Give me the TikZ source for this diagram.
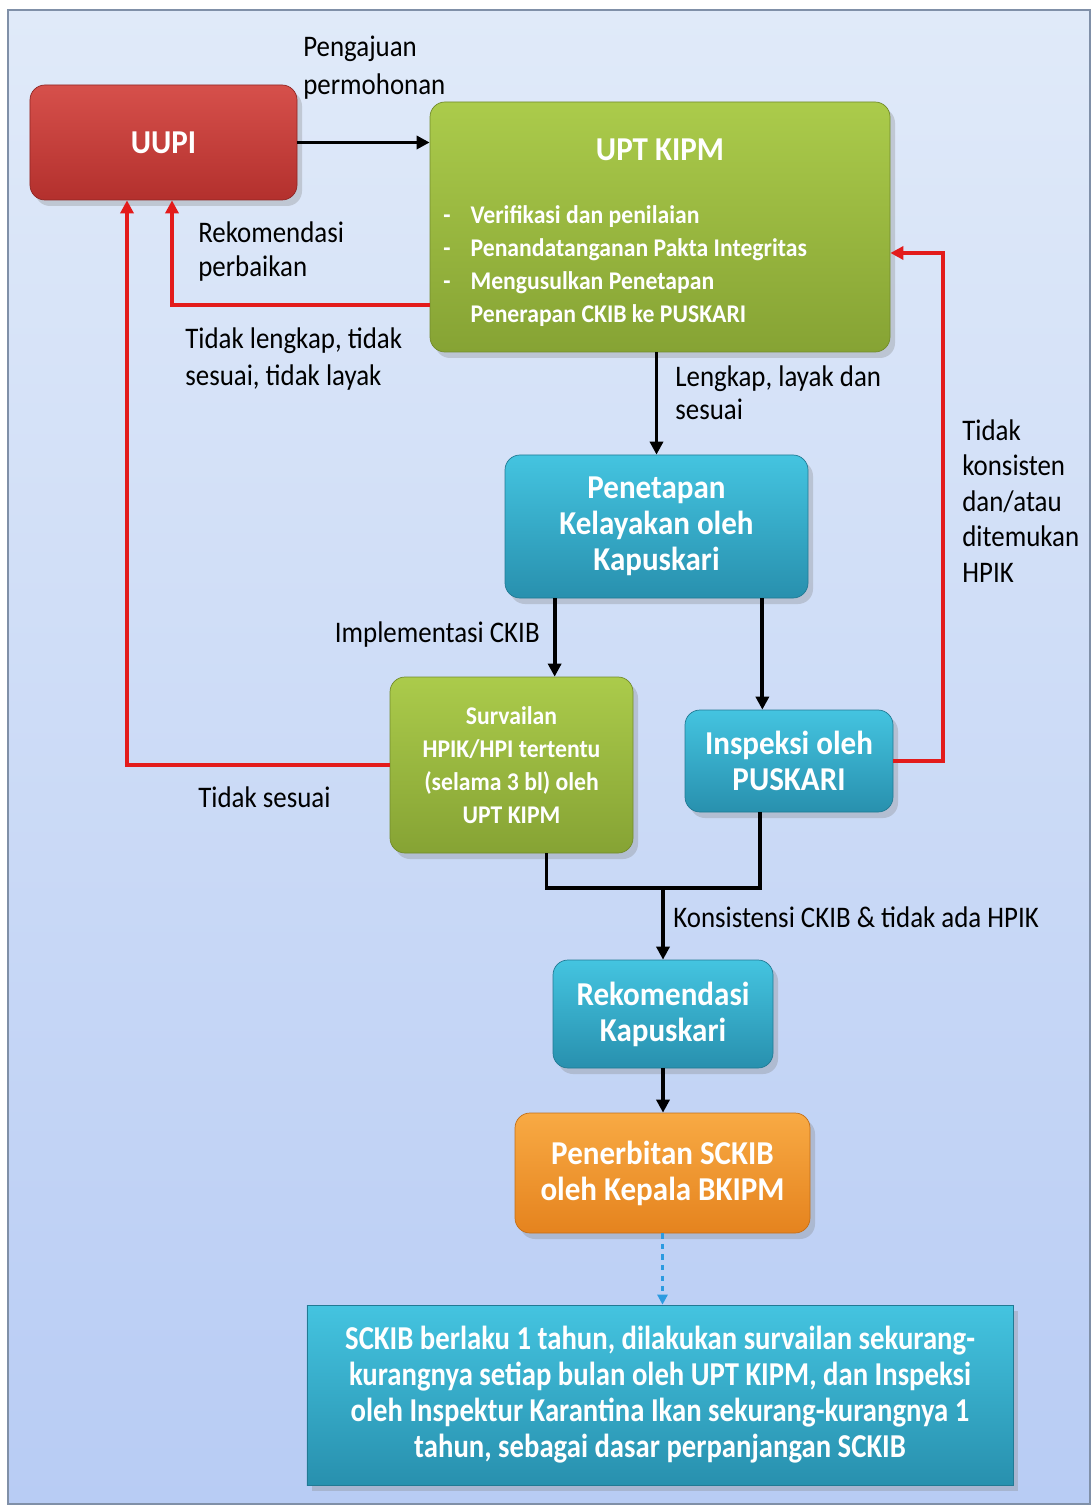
\documentclass[tikz,border=0pt]{standalone}
\usepackage{fontspec}
\setmainfont{Carlito}
\newfontfamily\boxfont[FakeStretch=0.93]{Carlito}
\newfontfamily\lblfont[FakeStretch=0.9]{Carlito}
\newfontfamily\notefont[FakeStretch=0.86]{Carlito}
\usetikzlibrary{arrows.meta,positioning,calc,shadows}
\definecolor{bgtop}{HTML}{E0EAF9}
\definecolor{bgbot}{HTML}{B8CCF4}
\definecolor{frame}{HTML}{8090A8}
\definecolor{redtop}{HTML}{D6504B}
\definecolor{redbot}{HTML}{B3302D}
\definecolor{grntop}{HTML}{ABCB4B}
\definecolor{grnbot}{HTML}{86A334}
\definecolor{blutop}{HTML}{44C4E0}
\definecolor{blubot}{HTML}{2890AE}
\definecolor{orgtop}{HTML}{F8AA44}
\definecolor{orgbot}{HTML}{E5831E}
\definecolor{lnred}{HTML}{E31B1B}
\definecolor{lnblue}{HTML}{2C9BE0}
\tikzset{
  box/.style={rounded corners=3mm, align=center, inner sep=2pt, text=white,
    font=\boxfont\bfseries\fontsize{19}{20.5}\selectfont,
    drop shadow={opacity=0.3, shadow xshift=1mm, shadow yshift=-1.2mm}},
  redbox/.style={top color=redtop, bottom color=redbot, draw=redbot!80!black, line width=0.4pt},
  greenbox/.style={top color=grntop, bottom color=grnbot, draw=grnbot!85!black, line width=0.4pt},
  bluebox/.style={top color=blutop, bottom color=blubot, draw=blubot!85!black, line width=0.4pt},
  orangebox/.style={top color=orgtop, bottom color=orgbot, draw=orgbot!85!black, line width=0.4pt},
  smalltext/.style={font=\boxfont\bfseries\fontsize{14.5}{18.8}\selectfont},
  lbl/.style={inner sep=0pt, align=left, font=\lblfont\fontsize{17}{19}\selectfont},
  blkline/.style={line width=2.2pt},
  blkarrow/.style={-{Triangle[length=2.6mm, width=2.6mm]}, line width=2.2pt},
  redarrow/.style={-{Triangle[length=2.6mm, width=2.6mm]}, line width=2.2pt, draw=lnred, color=lnred},
  dasharrow/.style={-{Triangle[length=2mm, width=2mm]}, line width=1.4pt, dashed, draw=lnblue, color=lnblue}
}
\begin{document}
\begin{tikzpicture}[x=0.2mm, y=-0.2mm]
  \useasboundingbox (0,0) rectangle (1091,1505);
  \path[top color=bgtop, bottom color=bgbot, draw=frame, line width=1pt] (8,10) rectangle (1090,1504);

  \node[box, redbox, minimum width=53.4mm, minimum height=23mm] (uupi) at (163.5,142.5) {UUPI};
  \node[box, greenbox, minimum width=92mm, minimum height=50mm] (kipm) at (660,227) {};
  \node[text=white, font=\boxfont\bfseries\fontsize{19}{20.5}\selectfont] (kipmtitle) at (660,150) {UPT KIPM};
  \node[anchor=north west, inner sep=0pt, text=white, smalltext] (kipmlist) at (443,200) {%
    \begin{tabular}{@{}l@{\hspace{4mm}}l@{}}
      - & Verifikasi dan penilaian\\
      - & Penandatanganan Pakta Integritas\\
      - & Mengusulkan Penetapan\\
        & Penerapan CKIB ke PUSKARI
    \end{tabular}};
  \node[box, bluebox, minimum width=60.6mm, minimum height=28.6mm] (penetapan) at (656.5,526.5) {Penetapan\\Kelayakan oleh\\Kapuskari};
  \node[box, greenbox, smalltext, minimum width=48.6mm, minimum height=35.2mm] (surv) at (511.5,765) {Survailan\\HPIK/HPI tertentu\\(selama 3 bl) oleh\\UPT KIPM};
  \node[box, bluebox, minimum width=41.6mm, minimum height=20.4mm] (insp) at (789,761) {Inspeksi oleh\\PUSKARI};
  \node[box, bluebox, minimum width=44mm, minimum height=21.6mm] (rekom) at (663,1014) {Rekomendasi\\Kapuskari};
  \node[box, orangebox, minimum width=59mm, minimum height=24mm] (terbit) at (662.5,1173) {Penerbitan SCKIB\\oleh Kepala BKIPM};
  \node[box, bluebox, rounded corners=0pt, minimum width=141.2mm, minimum height=36mm,
    font=\notefont\bfseries\fontsize{19}{20.5}\selectfont] (note) at (660,1395)
    {SCKIB berlaku 1 tahun, dilakukan survailan sekurang-\\kurangnya setiap bulan oleh UPT KIPM, dan Inspeksi\\oleh Inspektur Karantina Ikan sekurang-kurangnya 1\\tahun, sebagai dasar perpanjangan SCKIB};

  \node[lbl, anchor=west] (lblsubmit) at (303,67.5) {Pengajuan\\[3pt]permohonan};
  \node[lbl, anchor=west] (lblfix) at (198,251.5) {Rekomendasi\\perbaikan};
  \node[lbl, anchor=west] (lblincomplete) at (185,359) {Tidak lengkap, tidak\\[2pt]sesuai, tidak layak};
  \node[lbl, anchor=west] (lblcomplete) at (675,393) {Lengkap, layak dan\\sesuai};
  \node[lbl, anchor=west, font=\lblfont\fontsize{17}{20.2}\selectfont] (lblinconsist) at (962,501) {Tidak\\konsisten\\dan/atau\\ditemukan\\HPIK};
  \node[lbl, anchor=east] (lblimpl) at (540,635) {Implementasi CKIB};
  \node[lbl, anchor=west] (lblnotok) at (198,797) {Tidak sesuai};
  \node[lbl, anchor=west] (lblconsist) at (673,917) {Konsistensi CKIB \& tidak ada HPIK};

  \coordinate (kipmout) at ([yshift=-15.6mm]kipm.west);
  \coordinate (kipmin) at ([yshift=-5.2mm]kipm.east);
  \coordinate (uupiin) at ([xshift=1.7mm]uupi.south);
  \coordinate (uupiin2) at ([xshift=-7.3mm]uupi.south);
  \coordinate (implsrc) at ([xshift=10mm]penetapan.south west);
  \coordinate (inspsrc) at ([xshift=-9.2mm]penetapan.south east);
  \coordinate (survout) at ([xshift=7mm]surv.south);
  \coordinate (inspout) at ([xshift=-5.8mm]insp.south);
  \coordinate (merge) at (663,888);

  \draw[blkarrow] (uupi) -- (uupi -| kipm.west);
  \draw[redarrow] (kipmout) -| (uupiin);
  \draw[redarrow] (surv.west) -| (uupiin2);
  \draw[redarrow] (insp.east) -- ++(10mm,0) |- (kipmin);
  \draw[blkarrow] (penetapan.north |- kipm.south) -- (penetapan.north);
  \draw[blkarrow] (implsrc) -- (implsrc |- surv.north);
  \draw[blkarrow] (inspsrc) -- (inspsrc |- insp.north);
  \draw[blkline] (survout) |- (merge) -| (inspout);
  \draw[blkarrow] (merge) -- (rekom.north);
  \draw[blkarrow] (rekom.south) -- (rekom.south |- terbit.north);
  \draw[dasharrow] (terbit.south) -- (terbit.south |- note.north);
\end{tikzpicture}
\end{document}
